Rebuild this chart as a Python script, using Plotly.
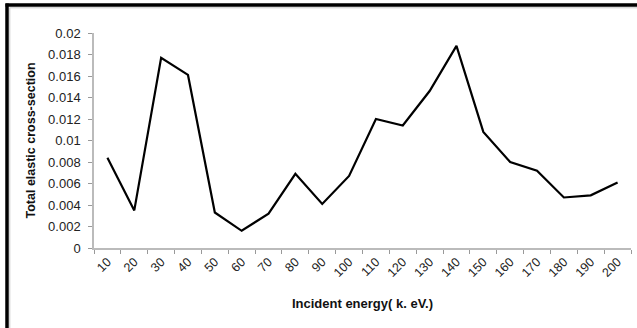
import plotly.graph_objects as go

energies = ["10", "20", "30", "40", "50", "60", "70", "80", "90", "100",
            "110", "120", "130", "140", "150", "160", "170", "180", "190", "200"]
cross_section = [0.0084, 0.0035, 0.0177, 0.0161, 0.0033, 0.0016, 0.0032, 0.0069, 0.0041, 0.0067,
                 0.0120, 0.0114, 0.0146, 0.0188, 0.0108, 0.0080, 0.0072, 0.0047, 0.0049, 0.0061]
y_tick_vals = [0, 0.002, 0.004, 0.006, 0.008, 0.01, 0.012, 0.014, 0.016, 0.018, 0.02]
y_tick_text = ["0", "0.002", "0.004", "0.006", "0.008", "0.01", "0.012", "0.014", "0.016", "0.018", "0.02"]

fig = go.Figure()
fig.add_trace(go.Scatter(x=energies, y=cross_section, mode="lines",
                         line=dict(color="black", width=2.2)))

W, H = 637, 328
ml, mr, mt, mb = 94, 6, 33, 80
pw, ph = W - ml - mr, H - mt - mb

def px(x):
    return (x - ml) / pw

def py(y):
    return (H - mb - y) / ph

font = "Liberation Sans, Arial, sans-serif"

fig.update_layout(
    width=W, height=H,
    margin=dict(l=ml, r=mr, t=mt, b=mb),
    paper_bgcolor="white", plot_bgcolor="white",
    showlegend=False,
    font=dict(family=font, size=12, color="#222"),
    xaxis=dict(type="category", tickson="boundaries", ticks="outside", ticklen=4,
               range=[-0.5, len(energies) - 0.5],
               tickcolor="#999", showline=True, linecolor="#bbb", linewidth=1.5,
               showgrid=False, zeroline=False, tickangle=-45,
               tickfont=dict(size=12.5, color="#222"),
               title=dict(text="<b>Incident energy( k. eV.)</b>", font=dict(size=13, color="#111"),
                          standoff=20)),
    yaxis=dict(range=[0, 0.02], tickvals=y_tick_vals, ticktext=y_tick_text,
               ticks="outside", ticklen=4, tickcolor="#999", showline=True,
               linecolor="#bbb", linewidth=1.5, showgrid=False, zeroline=False,
               ticklabelstandoff=5,
               tickfont=dict(size=13, color="#222"),
               title=dict(text="<b>Total elastic cross-section</b>", font=dict(size=12.5, color="#111"),
                          standoff=10)),
    shapes=[
        # frame: top edge and left edge (black), with a light inner shadow
        dict(type="line", xref="paper", yref="paper",
             x0=px(5.5), x1=px(W), y0=py(5), y1=py(5),
             line=dict(color="black", width=3.5), layer="above"),
        dict(type="line", xref="paper", yref="paper",
             x0=px(7), x1=px(7), y0=py(3.5), y1=py(H),
             line=dict(color="black", width=3.5), layer="above"),
        dict(type="line", xref="paper", yref="paper",
             x0=px(9.5), x1=px(W), y0=py(7.8), y1=py(7.8),
             line=dict(color="#c8c8c8", width=1), layer="above"),
        dict(type="line", xref="paper", yref="paper",
             x0=px(9.8), x1=px(9.8), y0=py(7.8), y1=py(H),
             line=dict(color="#c8c8c8", width=1), layer="above"),
    ],
)

fig.write_html("out.html", config={"displayModeBar": False},
               post_script="document.body.style.margin='0';document.body.style.overflow='hidden';")
